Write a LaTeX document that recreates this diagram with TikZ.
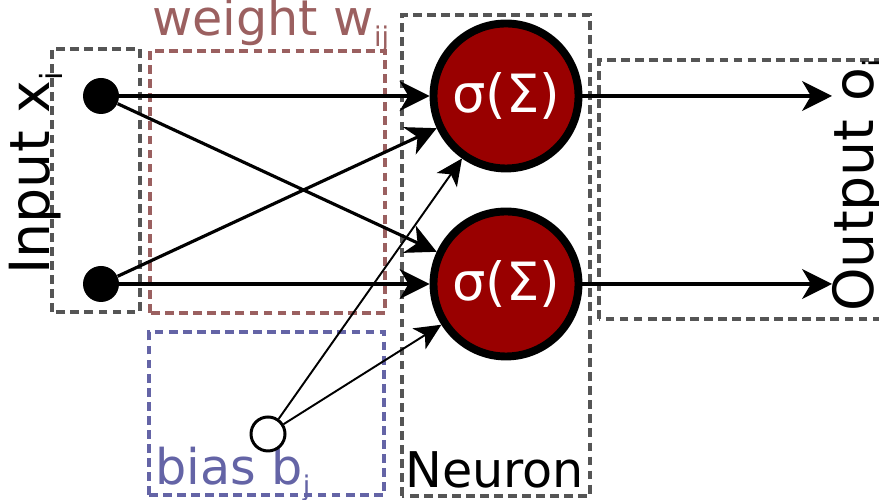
\documentclass[tikz,border=0pt]{standalone}
\usepackage{fontspec}
\setmainfont{DejaVu Sans}
\usepackage{graphicx}
\usetikzlibrary{arrows.meta}
\definecolor{nnred}{RGB}{153,0,0}
\definecolor{nngray}{RGB}{85,85,85}
\definecolor{nnweight}{RGB}{155,96,96}
\definecolor{nnbias}{RGB}{100,100,166}
\newcommand{\lsub}[1]{\raisebox{-0.22em}{\scalebox{0.55}{#1}}}

\begin{document}
\begin{tikzpicture}[
  box/.style={line width=2.1pt, dash pattern=on 5pt off 3pt},
  lbl/.style={font=\fontsize{28}{33}\selectfont, inner sep=0pt},
  sidelbl/.style={font=\fontsize{31.5}{36}\selectfont, inner sep=0pt, rotate=90},
  indot/.style={circle, fill=black, minimum size=0.72cm, inner sep=0pt},
  neuron/.style={circle, draw=black, line width=4.5pt, fill=nnred, text=white,
    minimum size=2.9cm, inner sep=0pt, font=\fontsize{30}{35}\selectfont},
  conn/.style={line width=1.8pt, -{Stealth[length=17pt,width=17pt,inset=5pt]}},
  biasconn/.style={line width=1.1pt, -{Stealth[length=15pt,width=14pt,inset=4pt]}}
]
  \useasboundingbox (0,0) rectangle (17.58,10);
  % Dashed groups
  \draw[box, nngray] (1.04,3.76) rectangle (2.8,9.02);
  \draw[box, nnweight] (3.0,3.74) rectangle (7.7,8.98);
  \draw[box, nnbias] (2.98,0.1) rectangle (7.68,3.36);
  \draw[box, nngray] (8.04,0.08) rectangle (11.8,9.7);
  \draw[box, nngray] (11.98,3.62) rectangle (18.2,8.8);
  % Labels
  \node[sidelbl, anchor=base west] (inlbl) at (1.0,4.5) {Input x\lsub{i}};
  \node[lbl, nnweight, anchor=base west] (wlbl) at (3.04,9.28) {weight w\lsub{ij}};
  \node[lbl, nnbias, anchor=base west] (blbl) at (3.1,0.3) {bias b\lsub{j}};
  \node[lbl, anchor=base west] (nlbl) at (8.1,0.24) {Neuron};
  \node[sidelbl, anchor=base west] (outlbl) at (17.46,3.76) {Output o\lsub{j}};
  % Units
  \node[indot] (in1) at (2.02,8.08) {};
  \node[indot] (in2) at (2.02,4.32) {};
  \node[circle, draw=black, line width=1.7pt, fill=white, minimum size=0.68cm,
    inner sep=0pt] (bias) at (5.36,1.32) {};
  \node[neuron] (n1) at (10.12,8.08) {σ(Σ)};
  \node[neuron] (n2) at (10.12,4.32) {σ(Σ)};
  \coordinate (o1) at (16.64,8.08);
  \coordinate (o2) at (16.64,4.32);
  % Connections
  \draw[conn] (in1) -- (n1);
  \draw[conn] (in1) -- (n2);
  \draw[conn] (in2) -- (n1);
  \draw[conn] (in2) -- (n2);
  \draw[biasconn] (bias) -- (n1);
  \draw[biasconn] (bias) -- (n2);
  \draw[conn] (n1) -- (o1);
  \draw[conn] (n2) -- (o2);
\end{tikzpicture}
\end{document}
